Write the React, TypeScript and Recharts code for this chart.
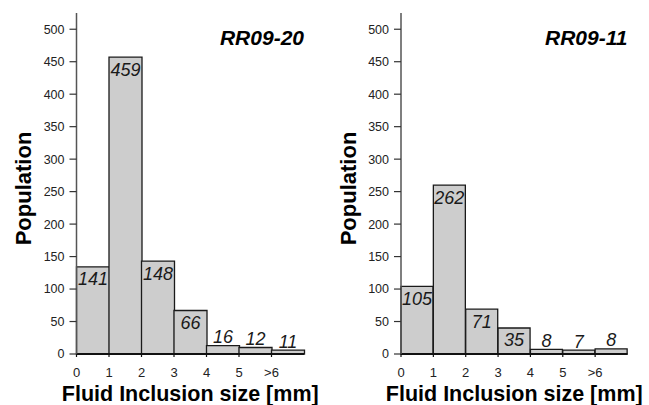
// Fluid inclusion size histograms for two samples (RR09-20, RR09-11).
// Bars span whole size classes, so the x tick labels sit on the class
// boundaries rather than on the bar centres.

import { Bar, BarChart, Label, LabelList, XAxis, YAxis } from "recharts";

const FONT = "Liberation Sans, Arial, Helvetica, sans-serif";

const sizeClasses = ["0", "1", "2", "3", "4", "5", ">6"];
const populationTicks = [0, 50, 100, 150, 200, 250, 300, 350, 400, 450, 500];

// bar heights as drawn, and the counts printed on them
const rr0920Heights = [134, 457, 143, 67, 13, 10, 6];
const rr0920Counts = [141, 459, 148, 66, 16, 12, 11];
const rr0911Heights = [104, 260, 69, 40, 7, 6, 8];
const rr0911Counts = [105, 262, 71, 35, 8, 7, 8];

interface HistProps {
  title: string;
  heights: number[];
  counts: number[];
  width: number;
  yAxisWidth: number;
  marginRight: number;
}

// tick label on the left edge of each size class
function BoundaryTick(props: any) {
  const { x, y, payload } = props;
  const half = payload?.offset ?? 0;
  const bx = x - half;
  return (
    <g>
      <line x1={bx} y1={y} x2={bx} y2={y + 3} stroke="#111" strokeWidth={1.2} />
      <text x={bx} y={y + 22.5} textAnchor="middle" fill="#222" fontSize={13} fontFamily={FONT}>
        {payload.value}
      </text>
    </g>
  );
}

function CountLabel(props: any) {
  const { x, y, width, height, value } = props;
  // tall bars carry the count inside, short ones above
  const cy = height > 20 ? y + 12 : y - 9;
  return (
    <text
      x={x + width / 2}
      y={cy}
      dy="0.36em"
      textAnchor="middle"
      fill="#1a1a1a"
      fontSize={18}
      fontStyle="italic"
      fontFamily={FONT}
    >
      {value}
    </text>
  );
}

function Histogram({ title, heights, counts, width, yAxisWidth, marginRight }: HistProps) {
  const data = sizeClasses.map((c, i) => ({ size: c, height: heights[i], count: counts[i] }));
  return (
    <div style={{ position: "relative", width, height: 405 }}>
      <BarChart
        width={width}
        height={405}
        data={data}
        margin={{ top: 13, right: marginRight, bottom: 0, left: 0 }}
        barCategoryGap={0}
        barGap={0}
      >
        <XAxis
          dataKey="size"
          interval={0}
          height={51}
          tickSize={0}
          tickMargin={0}
          tickLine={false}
          tick={<BoundaryTick />}
          axisLine={{ stroke: "#111", strokeWidth: 2 }}
        >
          <Label
            content={(p: any) => {
              const vb = p.viewBox;
              return (
                <text
                  x={vb.x + vb.width / 2}
                  y={vb.y + 46.5}
                  textAnchor="middle"
                  fill="#000"
                  fontSize={21.5}
                  fontWeight="bold"
                  fontFamily={FONT}
                >
                  Fluid Inclusion size [mm]
                </text>
              );
            }}
          />
        </XAxis>
        <YAxis
          type="number"
          domain={[0, 525]}
          ticks={populationTicks}
          interval={0}
          width={yAxisWidth}
          tickSize={7}
          tickMargin={5}
          axisLine={{ stroke: "#555", strokeWidth: 1.5 }}
          tickLine={{ stroke: "#333", strokeWidth: 1.2 }}
          tick={{ fill: "#222", fontSize: 12.5, fontFamily: FONT }}
        >
          <Label
            content={(p: any) => {
              const vb = p.viewBox;
              const cx = vb.x + vb.width - 53;
              const cy = vb.y + vb.height / 2 + 5;
              return (
                <text
                  x={cx}
                  y={cy}
                  dy="0.36em"
                  transform={`rotate(-90, ${cx}, ${cy})`}
                  textAnchor="middle"
                  fill="#000"
                  fontSize={22}
                  fontWeight="bold"
                  fontFamily={FONT}
                >
                  Population
                </text>
              );
            }}
          />
        </YAxis>
        <Bar
          dataKey="height"
          fill="#cdcdcd"
          stroke="#1a1a1a"
          strokeWidth={1.3}
          isAnimationActive={false}
        >
          <LabelList dataKey="count" content={<CountLabel />} />
        </Bar>
      </BarChart>
      <div
        style={{
          position: "absolute",
          top: 26,
          right: marginRight,
          fontFamily: FONT,
          fontSize: 21,
          fontWeight: "bold",
          fontStyle: "italic",
          lineHeight: "24px",
          color: "#000",
          whiteSpace: "nowrap",
        }}
      >
        {title}
      </div>
    </div>
  );
}

export default function App() {
  return (
    <div
      style={{
        position: "absolute",
        left: 0,
        top: 0,
        width: 649,
        height: 405,
        background: "#fff",
        display: "flex",
        overflow: "hidden",
      }}
    >
      <Histogram
        title="RR09-20"
        heights={rr0920Heights}
        counts={rr0920Counts}
        width={330}
        yAxisWidth={76.5}
        marginRight={26}
      />
      <Histogram
        title="RR09-11"
        heights={rr0911Heights}
        counts={rr0911Counts}
        width={319}
        yAxisWidth={71}
        marginRight={21.5}
      />
    </div>
  );
}
